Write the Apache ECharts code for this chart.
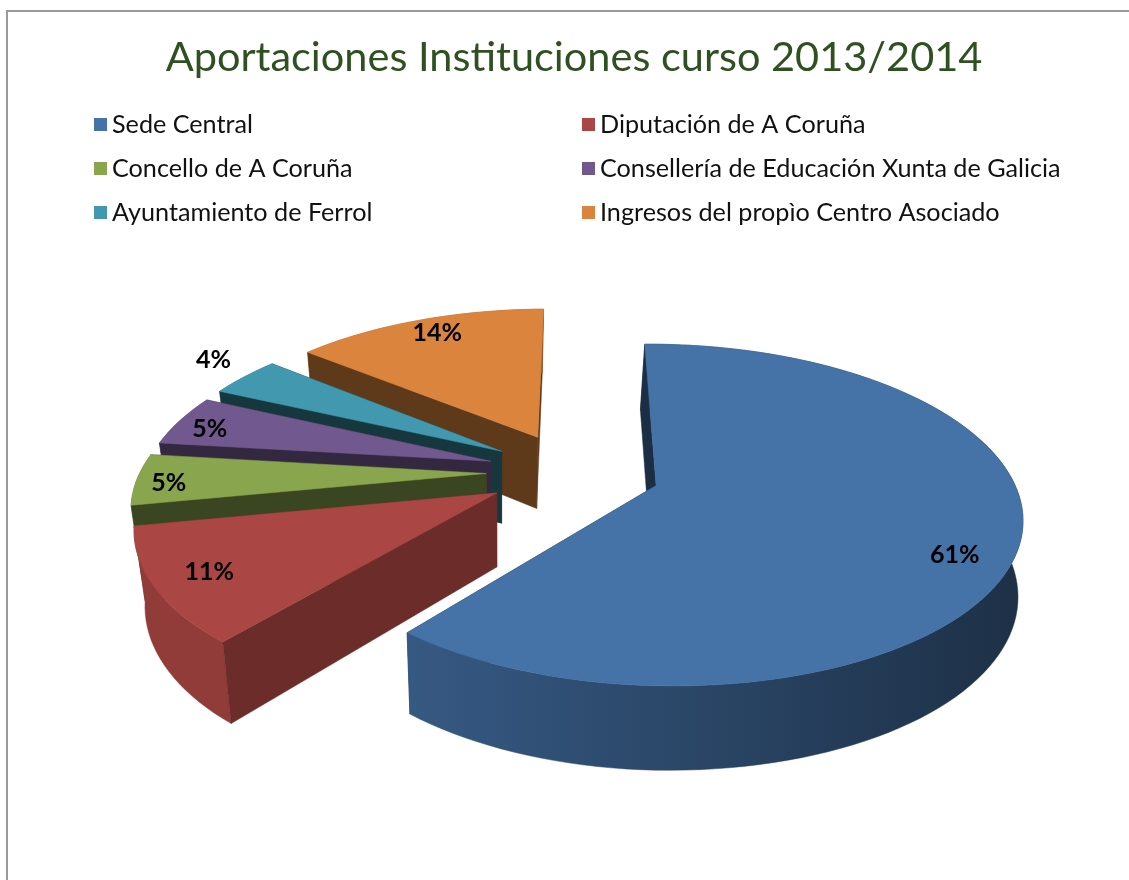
<!DOCTYPE html>
<html><head><meta charset="utf-8">
<style>html,body{margin:0;padding:0;background:#fff}#c{width:1129px;height:880px}</style>
<script src="https://cdn.jsdelivr.net/npm/echarts@6/dist/echarts.min.js"></script>
</head><body><div id="c"></div>
<script>
const titleText = 'Aportaciones Instituciones curso 2013/2014';
const categories = ['Sede Central','Diputación de A Coruña','Concello de A Coruña','Consellería de Educación Xunta de Galicia','Ayuntamiento de Ferrol','Ingresos del propìo Centro Asociado'];
const values = [61,11,5,5,4,14];
const colors = ['#4572A7','#AA4643','#89A54E','#71588F','#4198AF','#DB843D'];
const cutTone = [0.40,0.63,0.42,0.45,0.36,0.43];
const labelRadius = [0.857,0.85,0.905,0.885,1.175,0.87];
const labelTurn = [7.3,0,-1.5,-2,2.2,1.2];

// projection of the tilted, exploded pie
const V = {vx:500, cy:472, R:350, Rt:161, p:0.17, x0:0.209, explode:0.248, start:2.2, depth:73, sink:0.03, sinkMax:5, roll:0.02, rollAt:575};
const total = values.reduce((a,b)=>a+b,0);
const rad = d => d*Math.PI/180;
function project(X,Y){
  const w = 1+V.p*Y;
  const sx = V.vx+V.R*(V.x0+X)/w;
  return [sx, V.cy-V.Rt*Y/w-V.roll*(sx-V.rollAt), w];
}
function lower(pt){
  const shift=(V.vx-pt[0])*V.sink;
  return [pt[0]+Math.max(-V.sinkMax,shift), pt[1]+V.depth/Math.pow(pt[2],0.7)];
}
function shade(hex,f){
  const n=parseInt(hex.slice(1),16);
  return 'rgb('+[(n>>16)&255,(n>>8)&255,n&255].map(c=>Math.round(c*f)).join(',')+')';
}
function span(i){
  let before=0; for(let k=0;k<i;k++) before+=values[k];
  const a0=V.start+before/total*360, a1=a0+values[i]/total*360;
  return [a0,a1,(a0+a1)/2];
}
function sliceChildren(i){
  const [a0,a1,mid]=span(i);
  const ox=V.explode*Math.sin(rad(mid)), oy=V.explode*Math.cos(rad(mid));
  const apex=project(ox,oy);
  const arc=[];
  const n=Math.max(6,Math.ceil((a1-a0)/2));
  for(let k=0;k<=n;k++){
    const a=rad(a0+(a1-a0)*k/n);
    arc.push(project(ox+Math.sin(a),oy+Math.cos(a)));
  }
  const xy=p=>[p[0],p[1]];
  const top=[xy(apex)].concat(arc.map(xy));
  const wall=(p,q)=>[xy(p),xy(q),lower(q),lower(p)];
  const first=arc[0], last=arc[arc.length-1];
  const outer=arc.map(xy).concat(arc.slice().reverse().map(lower));
  const xs=arc.map(p=>p[0]);
  const xMin=Math.min.apply(null,xs), xMax=Math.max.apply(null,xs);
  const tone=x=>Math.max(0.42,Math.min(0.86,0.86-0.44*(x-300)/600));
  const grad=new echarts.graphic.LinearGradient(xMin,0,xMax,0,[
    {offset:0,color:shade(colors[i],tone(xMin))},
    {offset:1,color:shade(colors[i],tone(xMax))}],true);
  const cut=shade(colors[i],cutTone[i]);
  const poly=(pts,fill)=>({type:'polygon',shape:{points:pts},style:{fill:fill,stroke:fill,lineWidth:0.5},silent:true});
  const la=rad(mid+labelTurn[i]), lr=labelRadius[i];
  const lp=project(ox+lr*Math.sin(la),oy+lr*Math.cos(la));
  return [
    poly(wall(apex,last),cut),
    poly(outer,grad),
    poly(wall(apex,first),cut),
    poly(top,colors[i]),
    {type:'text',style:{x:lp[0],y:lp[1],text:values[i]+'%',fill:'#000',align:'center',verticalAlign:'middle',
      font:'bold 25px Lato'},silent:true}
  ];
}
const depthOrder=values.map((v,i)=>i).sort((a,b)=>Math.cos(rad(span(b)[2]))-Math.cos(rad(span(a)[2])));
const series=categories.map((name,i)=>({
  type:'custom',name:name,coordinateSystem:'none',silent:true,animation:false,
  z:2+depthOrder.indexOf(i),
  itemStyle:{color:colors[i]},
  data:[[values[i]]],
  renderItem:()=>({type:'group',children:sliceChildren(i)})
}));
const legendBase={orient:'vertical',top:107,itemWidth:13,itemHeight:13,itemGap:19,icon:'rect',selectedMode:false,
  textStyle:{fontFamily:'Lato',fontSize:25.2,color:'#111'}};
const chart=echarts.init(document.getElementById('c'),null,{renderer:'canvas'});
chart.setOption({
  backgroundColor:'#fff',animation:false,
  title:{text:titleText,left:569,top:32,textAlign:'center',
    textStyle:{fontFamily:'Lato',fontWeight:'normal',fontSize:41.5,color:'#2F5020'}},
  legend:[
    Object.assign({},legendBase,{left:89,data:[categories[0],categories[2],categories[4]]}),
    Object.assign({},legendBase,{left:577,data:[categories[1],categories[3],categories[5]]})
  ],
  graphic:[{type:'polyline',silent:true,shape:{points:[[7,880],[7,11],[1129,11]]},style:{fill:null,stroke:'#999',lineWidth:2}}],
  series:series
});
</script></body></html>
